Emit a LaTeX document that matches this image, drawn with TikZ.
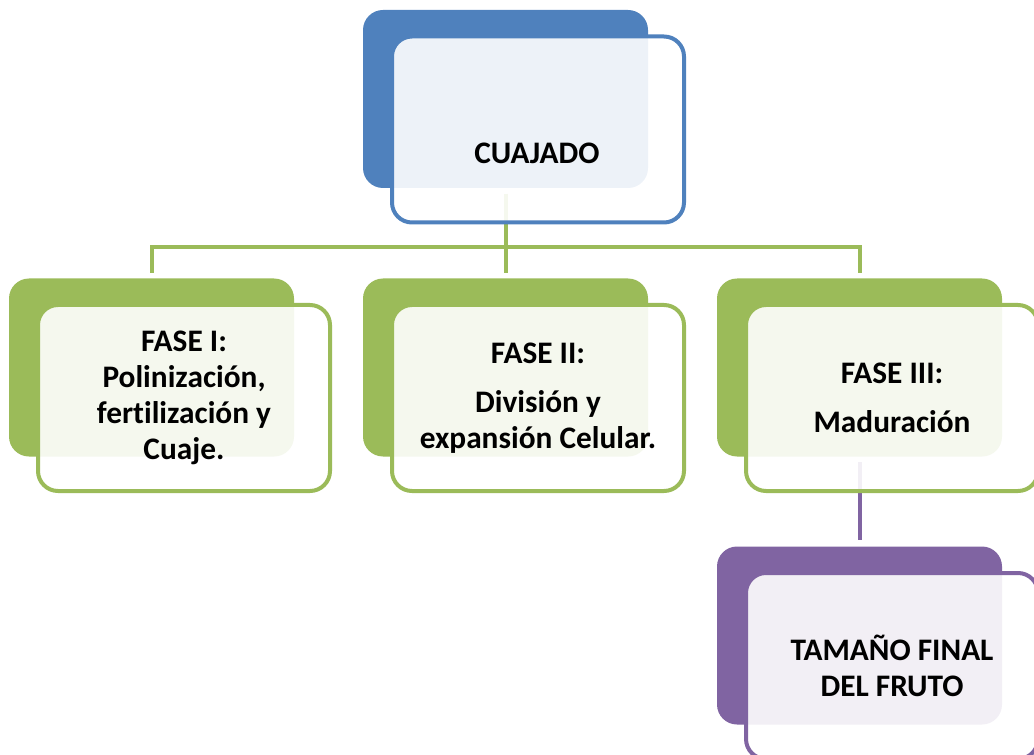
\documentclass[tikz,border=0pt]{standalone}
\usepackage{fontspec}
\setmainfont{Carlito}[Ligatures=NoCommon, Contextuals=NoAlternate]
\usepackage{xcolor}
\usepackage{tikz}
\definecolor{cuajadoblue}{HTML}{4F81BD}
\definecolor{fasegreen}{HTML}{9BBB59}
\definecolor{frutopurple}{HTML}{8064A2}
\tikzstyle{back}=[rounded corners=15pt, minimum width=213.75pt, minimum height=133.5pt, inner sep=0pt]
\tikzstyle{front}=[draw, line width=3pt, rounded corners=15pt, fill=white, fill opacity=0.9, text opacity=1, minimum width=219pt, minimum height=139.5pt, inner sep=0pt, align=center, font=\bfseries\fontsize{23.5}{27}\selectfont]
\tikzstyle{link}=[line width=3pt]

\begin{document}
\begin{tikzpicture}[x=0.75pt, y=-0.75pt]
        \useasboundingbox (0,0) rectangle (1034,755);

        % Back panels
        \node[back, fill=cuajadoblue] (cuajadoback) at (505.5,99) {};
        \node[back, fill=fasegreen] (fase1back) at (151.5,367.5) {};
        \node[back, fill=fasegreen] (fase2back) at (505.5,367.5) {};
        \node[back, fill=fasegreen] (fase3back) at (859.5,367.5) {};
        \node[back, fill=frutopurple] (frutoback) at (859.5,635.5) {};

        % Connectors
        \coordinate (bus) at (505.5,247);
        \draw[link, fasegreen, shorten <=4pt] (cuajadoback.south) -- (bus);
        \foreach \n in {fase1back, fase2back, fase3back}
            \draw[link, fasegreen, shorten >=4pt] (bus) -| (\n.north);
        \draw[link, frutopurple, shorten <=4pt, shorten >=5pt] (fase3back.south) -- (frutoback.north);

        % Front panels
        \node[front, draw=cuajadoblue] (cuajado) at (538,129.5) {};
        \node[font=\bfseries\fontsize{23.5}{27}\selectfont] (cuajadotext) at (537,153) {CUAJADO};
        \node[front, draw=fasegreen] (fase1) at (184,398) {FASE I:\\Polinización,\\fert\kern0pt ilización y\\Cuaje.};
        \node[front, draw=fasegreen] (fase2) at (538,398) {FASE II:\\[10pt]División y\\expansión Celular.};
        \node[front, draw=fasegreen] (fase3) at (892,398) {FASE III:\\[10pt]Maduración};
        \node[front, draw=frutopurple] (fruto) at (892,666) {TAMAÑO FINAL\\DEL FRUTO};

    \end{tikzpicture}
\end{document}
